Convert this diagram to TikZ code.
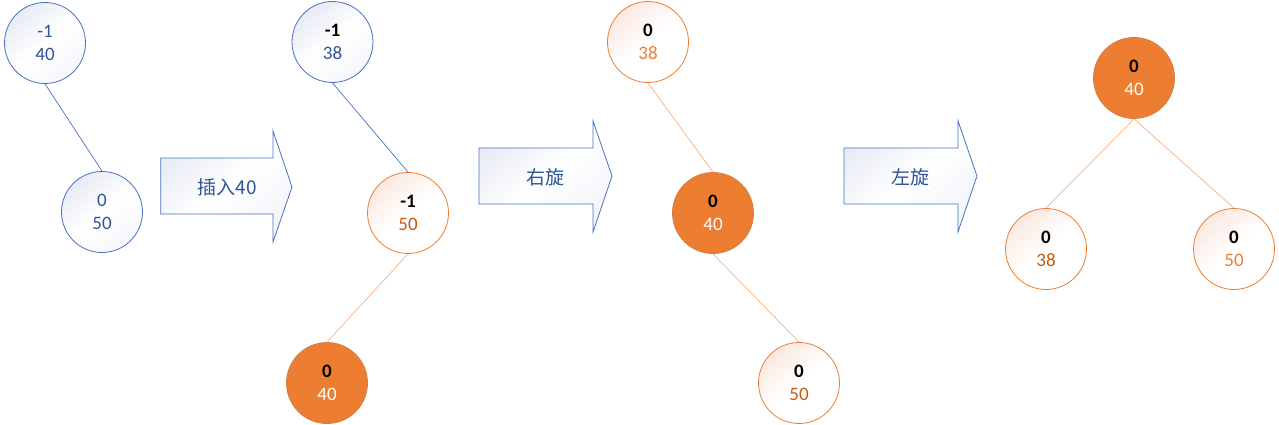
\documentclass[tikz,border=0pt]{standalone}
\usepackage{fontspec}
\setmainfont{Carlito}
\newfontfamily\cjk{Noto Sans CJK SC}
\definecolor{obl}{HTML}{4472C4}
\definecolor{tbl}{HTML}{2F5597}
\definecolor{oor}{HTML}{ED7D31}
\definecolor{tor}{HTML}{C55A11}
\definecolor{lor}{HTML}{F4B183}
\definecolor{gbl}{HTML}{E8EBF5}
\definecolor{gor}{HTML}{FBE8E0}
\tikzset{
  nd/.style={circle, minimum size=81pt, inner sep=0pt, align=center, font=\fontsize{19}{23}\selectfont, line width=0.8pt},
  bnd/.style={nd, draw=obl, top color=gbl, bottom color=white!60!gbl, middle color=white, shading angle=40, text=tbl},
  ond/.style={nd, draw=oor, top color=gor, bottom color=white, middle color=white, shading angle=40},
  fnd/.style={nd, draw=oor!75!gray, fill=oor},
  bline/.style={draw=obl, line width=0.7pt},
  oline/.style={draw=lor, line width=0.7pt},
  bigarrow/.style={draw=obl, line width=0.8pt, top color=gbl, bottom color=white!50!gbl, middle color=white, shading angle=40},
  lbl/.style={text=tbl, font=\cjk\fontsize{19}{22}\selectfont},
}
\begin{document}
\begin{tikzpicture}[x=1pt, y=-1pt]
\useasboundingbox (0,0) rectangle (1279,425);
% panel 1
\node[bnd] (a1) at (45,43) {-1\\40};
\node[bnd] (a2) at (102,212) {0\\50};
\draw[bline] (a1.south) -- (a2.north);
% arrow 1
\path[bigarrow] (160.7,158) -- (273,158) -- (273,131) -- (292,187) -- (273,242) -- (273,214) -- (160.7,214) -- cycle;
\node[lbl] (t1) at (227,187) {插入40};
% panel 2
\node[bnd] (b1) at (332.5,42) {\textcolor{black}{\textbf{-1}}\\38};
\node[ond] (b2) at (408,213) {\textbf{-1}\\\textcolor{tor}{50}};
\node[fnd] (b3) at (327,383) {\textbf{0}\\\textcolor{white}{40}};
\draw[bline] (b1.south) -- (b2.north);
\draw[oline] (b2.south) -- (b3.north);
% arrow 2
\path[bigarrow] (479,148) -- (593,148) -- (593,121) -- (612,176) -- (593,232) -- (593,204) -- (479,204) -- cycle;
\node[lbl] (t2) at (545,177) {右旋};
% panel 3
\node[ond] (c1) at (648,42) {\textbf{0}\\\textcolor{oor}{38}};
\node[fnd] (c2) at (713,213) {\textbf{0}\\\textcolor{white}{40}};
\node[ond] (c3) at (799,383) {\textbf{0}\\\textcolor{tor}{50}};
\draw[oline] (c1.south) -- (c2.north);
\draw[oline] (c2.south) -- (c3.north);
% arrow 3
\path[bigarrow] (844,148) -- (958,148) -- (958,121) -- (977,176) -- (958,232) -- (958,204) -- (844,204) -- cycle;
\node[lbl] (t3) at (910,177) {左旋};
% panel 4
\node[fnd] (d1) at (1134,78) {\textbf{0}\\\textcolor{white}{40}};
\node[ond] (d2) at (1046,249) {\textbf{0}\\\textcolor{tor}{38}};
\node[ond] (d3) at (1234,249) {\textbf{0}\\\textcolor{oor}{50}};
\draw[oline] (d1.south) -- (d2.north);
\draw[oline] (d1.south) -- (d3.north);
\end{tikzpicture}
\end{document}
